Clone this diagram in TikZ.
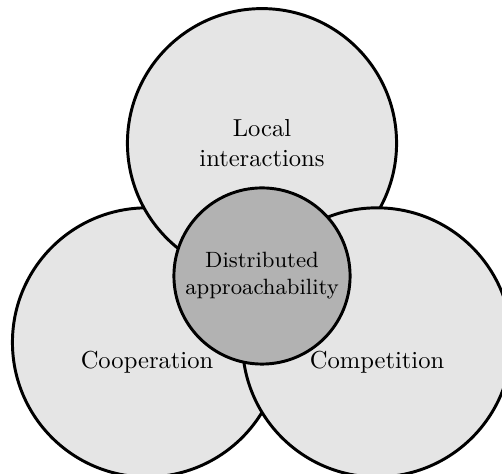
\documentclass[tikz,border=0pt]{standalone}
\begin{document}
\begin{tikzpicture}
	\useasboundingbox (-3.748,-2.832) rectangle (3.433,3.948);
	\tikzset{bigdisk/.style={very thick,fill=black!10}}
	\draw[bigdisk] (-1.645,-0.95) circle (1.925);
	\draw[bigdisk] (0,1.9) circle (1.925);
	\draw[bigdisk] (1.645,-0.95) circle (1.925);
	\draw[very thick,fill=black!30] (0,0) circle (1.26);
	\node[align=center] (local) at (0,1.9) {Local\\interactions};
	\node (coop) at (-1.645,-1.23) {Cooperation};
	\node (comp) at (1.645,-1.23) {Competition};
	\node[align=center,font=\small] (dist) at (0,0) {Distributed\\approachability};
\end{tikzpicture}
\end{document}
